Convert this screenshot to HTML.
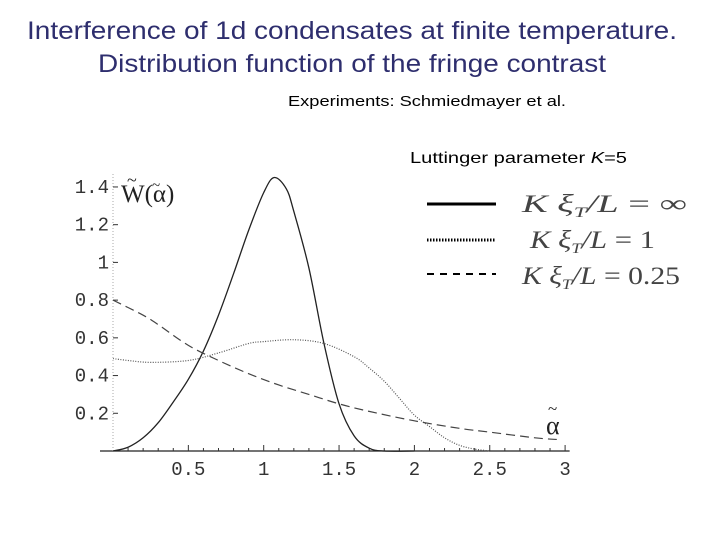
<!DOCTYPE html>
<html><head><meta charset="utf-8"><style>
html,body{margin:0;padding:0;background:#fff;}
svg{display:block;}
</style></head><body>
<svg width="720" height="540" viewBox="0 0 720 540" xmlns="http://www.w3.org/2000/svg">
<text x="352" y="39" text-anchor="middle" font-family="Liberation Sans, sans-serif" font-size="25" fill="#2e2e6e" textLength="650" lengthAdjust="spacingAndGlyphs">Interference of 1d condensates at finite temperature.</text>
<text x="352" y="72" text-anchor="middle" font-family="Liberation Sans, sans-serif" font-size="25" fill="#2e2e6e" textLength="508" lengthAdjust="spacingAndGlyphs">Distribution function of the fringe contrast</text>
<text x="288" y="106" font-family="Liberation Sans, sans-serif" font-size="15" fill="#000" textLength="278" lengthAdjust="spacingAndGlyphs">Experiments: Schmiedmayer et al.</text>
<text x="410" y="163" font-family="Liberation Sans, sans-serif" font-size="16" fill="#000" textLength="217" lengthAdjust="spacingAndGlyphs">Luttinger parameter <tspan font-style="italic">K</tspan>=5</text>
<g id="axes"></g>
<g id="series"></g>
<g font-family="Liberation Serif, serif" font-size="25" fill="#222">
<text x="121" y="202">W(α)</text>
<text x="127" y="186" font-size="18">~</text>
<text x="152" y="190" font-size="15">~</text>
</g>
<g font-family="Liberation Serif, serif" fill="#222">
<text x="546" y="434" font-size="26">α</text>
<text x="548" y="414" font-size="17">~</text>
</g>
<g>
<line x1="427" y1="204" x2="496" y2="204" stroke="#000" stroke-width="3"/>
<line x1="427" y1="240" x2="496" y2="240" stroke="#000" stroke-width="3" stroke-dasharray="1.5,1.5"/>
<line x1="427" y1="274" x2="496" y2="274" stroke="#000" stroke-width="2" stroke-dasharray="7,6"/>
<text x="522" y="212" font-family="Liberation Serif, serif" font-size="25" fill="#444" textLength="165" lengthAdjust="spacingAndGlyphs"><tspan font-style="italic">K ξ</tspan><tspan font-size="15" font-style="italic" dy="5">T</tspan><tspan dy="-5" font-style="italic">/L</tspan> = ∞</text>
<text x="530" y="248" font-family="Liberation Serif, serif" font-size="25" fill="#444" textLength="125" lengthAdjust="spacingAndGlyphs"><tspan font-style="italic">K ξ</tspan><tspan font-size="15" font-style="italic" dy="5">T</tspan><tspan dy="-5" font-style="italic">/L</tspan> = 1</text>
<text x="522" y="284" font-family="Liberation Serif, serif" font-size="25" fill="#444" textLength="158" lengthAdjust="spacingAndGlyphs"><tspan font-style="italic">K ξ</tspan><tspan font-size="15" font-style="italic" dy="5">T</tspan><tspan dy="-5" font-style="italic">/L</tspan> = 0.25</text>
</g>
</svg>
<script>
const xTicks=[0.5,1,1.5,2,2.5,3];
const xTickLabels=["0.5","1","1.5","2","2.5","3"];
const yTicks=[0.2,0.4,0.6,0.8,1,1.2,1.4];
const yTickLabels=["0.2","0.4","0.6","0.8","1","1.2","1.4"];
const solidX=[0,0.1,0.2,0.3,0.4,0.5,0.6,0.7,0.8,0.9,1.0,1.07,1.15,1.2,1.3,1.4,1.5,1.6,1.7,1.8,2.0];
const solidY=[0,0.02,0.07,0.15,0.26,0.38,0.53,0.72,0.94,1.17,1.37,1.45,1.39,1.27,0.97,0.57,0.25,0.08,0.015,0,0];
const dottedX=[0,0.1,0.25,0.5,0.7,0.9,1.0,1.2,1.4,1.6,1.7,1.8,1.9,2.0,2.1,2.2,2.3,2.4,2.5];
const dottedY=[0.49,0.48,0.47,0.48,0.52,0.57,0.58,0.59,0.57,0.5,0.44,0.37,0.28,0.19,0.13,0.07,0.03,0.01,0];
const dashedX=[0,0.2,0.3,0.5,0.7,0.9,1.1,1.3,1.5,1.7,2.0,2.3,2.5,2.8,2.97];
const dashedY=[0.8,0.72,0.67,0.56,0.48,0.41,0.35,0.3,0.25,0.21,0.16,0.12,0.1,0.07,0.06];

const NS="http://www.w3.org/2000/svg";
const X0=113,XS=150.7,Y0=451,YS=188.6;
const sx=v=>X0+v*XS, sy=v=>Y0-v*YS;
const axes=document.getElementById('axes');
function mk(tag,attrs,parent){const e=document.createElementNS(NS,tag);for(const k in attrs)e.setAttribute(k,attrs[k]);parent.appendChild(e);return e;}
const xl=mk('line',{x1:100,y1:Y0,x2:sx(3.03),y2:Y0,stroke:'#222','stroke-width':1.3},axes);


const yl=mk('line',{x1:X0,y1:Y0,x2:X0,y2:172,stroke:'#aaa','stroke-width':1,'stroke-dasharray':'1,2'},axes);


for(let v=0.1;v<3.05;v+=0.1){const major=Math.abs(v*2-Math.round(v*2))<1e-6;
 const t=mk('line',{x1:sx(v),y1:Y0,x2:sx(v),y2:Y0-(major?6:3),stroke:'#333','stroke-width':1},axes);
 
 }
xTicks.forEach((v,i)=>{const t=mk('text',{x:sx(v),y:Y0+24,'text-anchor':'middle','font-family':'Liberation Mono, monospace','font-size':19,fill:'#333'},axes);t.textContent=xTickLabels[i];
 
 });
yTicks.forEach((v,i)=>{const t=mk('text',{x:X0-4,y:sy(v)+6,'text-anchor':'end','font-family':'Liberation Mono, monospace','font-size':19,fill:'#333'},axes);t.textContent=yTickLabels[i];
 
 
 const k=mk('line',{x1:X0,y1:sy(v),x2:X0+5,y2:sy(v),stroke:'#333'},axes);
 
 });
function path(xs,ys){const p=xs.map((x,i)=>[sx(x),sy(ys[i])]);let d='M'+p[0][0]+','+p[0][1];
 for(let i=0;i<p.length-1;i++){const a=p[i-1]||p[i],b=p[i],c=p[i+1],e=p[i+2]||c;
  d+=` C${b[0]+(c[0]-a[0])/6},${b[1]+(c[1]-a[1])/6} ${c[0]-(e[0]-b[0])/6},${c[1]-(e[1]-b[1])/6} ${c[0]},${c[1]}`;}return d;}
const g=document.getElementById('series');
const s1=mk('path',{d:path(solidX,solidY),fill:'none',stroke:'#222','stroke-width':1.3},g);


const s2=mk('path',{d:path(dottedX,dottedY),fill:'none',stroke:'#555','stroke-width':1.2,'stroke-dasharray':'1,1.5'},g);


const s3=mk('path',{d:path(dashedX,dashedY),fill:'none',stroke:'#444','stroke-width':1.2,'stroke-dasharray':'9,5'},g);


</script>
</body></html>
